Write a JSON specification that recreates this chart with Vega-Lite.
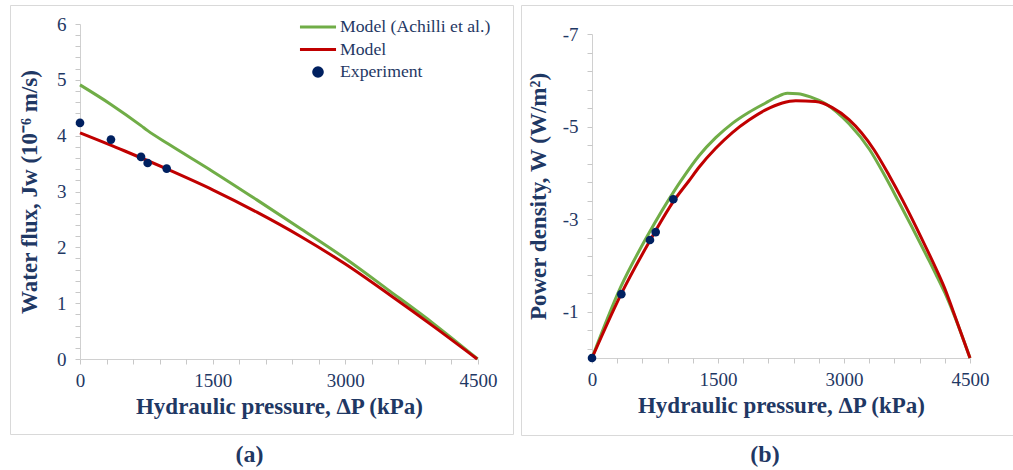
{
  "$schema": "https://vega.github.io/schema/vega-lite/v6.json",
  "background": "white",
  "padding": {"left": 9, "top": 4, "right": 0, "bottom": 0},
  "spacing": 6,
  "config": {
    "view": {"stroke": "#D9D9D9", "strokeWidth": 1},
    "font": "Liberation Serif",
    "axis": {
      "grid": false,
      "domainColor": "#D0D0D0",
      "tickColor": "#C8C8C8",
      "tickSize": 5,
      "labelFont": "Liberation Serif",
      "labelFontSize": 19,
      "labelColor": "#1F3864",
      "labelFlush": false,
      "labelOverlap": false,
      "titleFont": "Liberation Serif",
      "titleFontSize": 23,
      "titleFontWeight": "bold",
      "titleColor": "#1F3864"
    },
    "legend": {
      "labelFont": "Liberation Serif",
      "labelFontSize": 17.7,
      "labelColor": "#1F3864",
      "symbolType": "stroke",
      "symbolSize": 1300,
      "symbolStrokeWidth": 3,
      "clipHeight": 22,
      "rowPadding": 0.5,
      "labelOffset": 2,
      "padding": 0
    }
  },
  "datasets": {
    "flux": [
      {"s": "Model (Achilli et al.)", "p": 0, "v": 4.91},
      {"s": "Model (Achilli et al.)", "p": 350, "v": 4.56},
      {"s": "Model (Achilli et al.)", "p": 690, "v": 4.18},
      {"s": "Model (Achilli et al.)", "p": 765, "v": 4.09},
      {"s": "Model (Achilli et al.)", "p": 1000, "v": 3.85},
      {"s": "Model (Achilli et al.)", "p": 1500, "v": 3.36},
      {"s": "Model (Achilli et al.)", "p": 2000, "v": 2.85},
      {"s": "Model (Achilli et al.)", "p": 2500, "v": 2.33},
      {"s": "Model (Achilli et al.)", "p": 3000, "v": 1.80},
      {"s": "Model (Achilli et al.)", "p": 3500, "v": 1.22},
      {"s": "Model (Achilli et al.)", "p": 4000, "v": 0.63},
      {"s": "Model (Achilli et al.)", "p": 4497, "v": 0},
      {"s": "Model", "p": 0, "v": 4.05},
      {"s": "Model", "p": 500, "v": 3.73},
      {"s": "Model", "p": 1000, "v": 3.39},
      {"s": "Model", "p": 1500, "v": 3.03},
      {"s": "Model", "p": 2000, "v": 2.63},
      {"s": "Model", "p": 2500, "v": 2.19},
      {"s": "Model", "p": 3000, "v": 1.70},
      {"s": "Model", "p": 3500, "v": 1.15},
      {"s": "Model", "p": 4000, "v": 0.58},
      {"s": "Model", "p": 4490, "v": 0},
      {"s": "Experiment", "p": 0, "v": 4.23},
      {"s": "Experiment", "p": 350, "v": 3.93},
      {"s": "Experiment", "p": 690, "v": 3.62},
      {"s": "Experiment", "p": 765, "v": 3.51},
      {"s": "Experiment", "p": 980, "v": 3.41}
    ],
    "power": [
      {"s": "Model (Achilli et al.)", "p": 0, "v": 0},
      {"s": "Model (Achilli et al.)", "p": 341, "v": -1.53},
      {"s": "Model (Achilli et al.)", "p": 679, "v": -2.70},
      {"s": "Model (Achilli et al.)", "p": 976, "v": -3.60},
      {"s": "Model (Achilli et al.)", "p": 1056, "v": -3.82},
      {"s": "Model (Achilli et al.)", "p": 1274, "v": -4.37},
      {"s": "Model (Achilli et al.)", "p": 1473, "v": -4.76},
      {"s": "Model (Achilli et al.)", "p": 1671, "v": -5.07},
      {"s": "Model (Achilli et al.)", "p": 1869, "v": -5.31},
      {"s": "Model (Achilli et al.)", "p": 2067, "v": -5.51},
      {"s": "Model (Achilli et al.)", "p": 2200, "v": -5.64},
      {"s": "Model (Achilli et al.)", "p": 2325, "v": -5.72},
      {"s": "Model (Achilli et al.)", "p": 2450, "v": -5.71},
      {"s": "Model (Achilli et al.)", "p": 2600, "v": -5.64},
      {"s": "Model (Achilli et al.)", "p": 2782, "v": -5.49},
      {"s": "Model (Achilli et al.)", "p": 3060, "v": -5.06},
      {"s": "Model (Achilli et al.)", "p": 3306, "v": -4.50},
      {"s": "Model (Achilli et al.)", "p": 3488, "v": -3.93},
      {"s": "Model (Achilli et al.)", "p": 3650, "v": -3.38},
      {"s": "Model (Achilli et al.)", "p": 3806, "v": -2.84},
      {"s": "Model (Achilli et al.)", "p": 4000, "v": -2.15},
      {"s": "Model (Achilli et al.)", "p": 4091, "v": -1.82},
      {"s": "Model (Achilli et al.)", "p": 4200, "v": -1.41},
      {"s": "Model (Achilli et al.)", "p": 4300, "v": -0.98},
      {"s": "Model (Achilli et al.)", "p": 4500, "v": 0},
      {"s": "Model", "p": 0, "v": 0},
      {"s": "Model", "p": 341, "v": -1.36},
      {"s": "Model", "p": 679, "v": -2.50},
      {"s": "Model", "p": 976, "v": -3.40},
      {"s": "Model", "p": 1155, "v": -3.83},
      {"s": "Model", "p": 1274, "v": -4.12},
      {"s": "Model", "p": 1473, "v": -4.53},
      {"s": "Model", "p": 1671, "v": -4.87},
      {"s": "Model", "p": 1869, "v": -5.14},
      {"s": "Model", "p": 2067, "v": -5.36},
      {"s": "Model", "p": 2266, "v": -5.51},
      {"s": "Model", "p": 2425, "v": -5.56},
      {"s": "Model", "p": 2663, "v": -5.54},
      {"s": "Model", "p": 2861, "v": -5.41},
      {"s": "Model", "p": 3060, "v": -5.15},
      {"s": "Model", "p": 3357, "v": -4.50},
      {"s": "Model", "p": 3536, "v": -3.95},
      {"s": "Model", "p": 3700, "v": -3.40},
      {"s": "Model", "p": 3853, "v": -2.85},
      {"s": "Model", "p": 4000, "v": -2.30},
      {"s": "Model", "p": 4131, "v": -1.79},
      {"s": "Model", "p": 4200, "v": -1.50},
      {"s": "Model", "p": 4300, "v": -1.01},
      {"s": "Model", "p": 4500, "v": 0},
      {"s": "Experiment", "p": 0, "v": 0},
      {"s": "Experiment", "p": 349, "v": -1.38},
      {"s": "Experiment", "p": 690, "v": -2.55},
      {"s": "Experiment", "p": 758, "v": -2.72},
      {"s": "Experiment", "p": 968, "v": -3.43}
    ]
  },
  "hconcat": [
    {
      "width": 503,
      "height": 429,
      "title": {"text": "(a)", "orient": "bottom", "fontSize": 24, "fontWeight": "bold", "color": "#1F3864", "font": "Liberation Serif", "offset": 9, "dx": -12},
      "data": {"name": "flux"},
      "resolve": {"axis": {"x": "independent", "y": "independent"}},
      "layer": [
        {
          "transform": [{"filter": "datum.s !== 'Experiment'"}],
          "mark": {"type": "line", "strokeWidth": 3, "interpolate": "monotone"},
          "encoding": {
            "x": {"field": "p", "type": "quantitative", "scale": {"domain": [0, 4500], "nice": false, "range": [70, 468]},
              "axis": {"title": "Hydraulic pressure, ΔP (kPa)", "values": [0, 1500, 3000, 4500], "format": "d", "labelPadding": 7, "titlePadding": 5, "orient": "bottom", "offset": -75}},
            "y": {"field": "v", "type": "quantitative", "scale": {"domain": [0, 6], "nice": false, "range": [354, 19]},
              "axis": {"title": "Water flux, Jw (10⁻⁶ m/s)", "values": [0, 1, 2, 3, 4, 5, 6], "format": "d", "labelPadding": 9, "titlePadding": 15, "orient": "left", "offset": -70}},
            "color": {"field": "s", "type": "nominal",
              "scale": {"domain": ["Model (Achilli et al.)", "Model", "Experiment"], "range": ["#70AD47", "#C00000", "#002060"]},
              "legend": {"title": null, "orient": "none", "legendX": 288, "legendY": 11,
                "encode": {"symbols": {"update": {
                  "shape": {"signal": "datum.value === 'Experiment' ? 'circle' : 'stroke'"},
                  "size": {"signal": "datum.value === 'Experiment' ? 75 : 1300"},
                  "fill": {"signal": "datum.value === 'Experiment' ? '#002060' : 'transparent'"},
                  "stroke": {"signal": "datum.value === 'Experiment' ? 'transparent' : (datum.value === 'Model' ? '#C00000' : '#70AD47')"},
                  "strokeWidth": {"value": 3}
                }}}}}
          }
        },
        {
          "transform": [{"filter": "datum.s === 'Experiment'"}],
          "mark": {"type": "point", "filled": true, "size": 75, "opacity": 1},
          "encoding": {
            "x": {"field": "p", "type": "quantitative",
              "axis": {"values": [300,600,900,1200,1800,2100,2400,2700,3300,3600,3900,4200], "labels": false, "domain": false, "title": null, "orient": "bottom", "offset": -75}},
            "y": {"field": "v", "type": "quantitative",
              "axis": {"values": [0.2,0.4,0.6,0.8,1.2,1.4,1.6,1.8,2.2,2.4,2.6,2.8,3.2,3.4,3.6,3.8,4.2,4.4,4.6,4.8,5.2,5.4,5.6,5.8], "labels": false, "domain": false, "title": null, "orient": "left", "offset": -70}},
            "color": {"field": "s", "type": "nominal"}
          }
        }
      ]
    },
    {
      "width": 494,
      "height": 430,
      "title": {"text": "(b)", "orient": "bottom", "fontSize": 24, "fontWeight": "bold", "color": "#1F3864", "font": "Liberation Serif", "offset": 8, "dx": -3},
      "data": {"name": "power"},
      "resolve": {"axis": {"x": "independent", "y": "independent"}},
      "layer": [
        {
          "transform": [{"filter": "datum.s !== 'Experiment'"}],
          "mark": {"type": "line", "strokeWidth": 3, "interpolate": "monotone"},
          "encoding": {
            "x": {"field": "p", "type": "quantitative", "scale": {"domain": [0, 4500], "nice": false, "range": [71, 449]},
              "axis": {"title": "Hydraulic pressure, ΔP (kPa)", "values": [0, 1500, 3000, 4500], "format": "d", "labelPadding": 7, "titlePadding": 5, "orient": "bottom", "offset": -77}},
            "y": {"field": "v", "type": "quantitative", "scale": {"domain": [0, -7], "nice": false, "zero": false, "range": [353, 29]},
              "axis": {"title": "Power density, W (W/m²)", "values": [-7, -5, -3, -1], "labelExpr": "'' + datum.value", "labelPadding": 9, "titlePadding": 12, "orient": "left", "offset": -71}},
            "color": {"field": "s", "type": "nominal",
              "scale": {"domain": ["Model (Achilli et al.)", "Model", "Experiment"], "range": ["#70AD47", "#C00000", "#002060"]},
              "legend": {"title": null, "orient": "none", "legendX": 296, "legendY": 15,
                "encode": {"symbols": {"update": {
                  "shape": {"signal": "datum.value === 'Experiment' ? 'circle' : 'stroke'"},
                  "size": {"signal": "datum.value === 'Experiment' ? 75 : 1300"},
                  "fill": {"signal": "datum.value === 'Experiment' ? '#002060' : 'transparent'"},
                  "stroke": {"signal": "datum.value === 'Experiment' ? 'transparent' : (datum.value === 'Model' ? '#C00000' : '#70AD47')"},
                  "strokeWidth": {"value": 3}
                }}}}}
          }
        },
        {
          "transform": [{"filter": "datum.s === 'Experiment'"}],
          "mark": {"type": "point", "filled": true, "size": 75, "opacity": 1},
          "encoding": {
            "x": {"field": "p", "type": "quantitative",
              "axis": {"values": [300,600,900,1200,1800,2100,2400,2700,3300,3600,3900,4200], "labels": false, "domain": false, "title": null, "orient": "bottom", "offset": -77}},
            "y": {"field": "v", "type": "quantitative",
              "axis": {"values": [-6.6,-6.2,-5.8,-5.4,-4.6,-4.2,-3.8,-3.4,-2.6,-2.2,-1.8,-1.4,-0.6,-0.2], "labels": false, "domain": false, "title": null, "orient": "left", "offset": -71}},
            "color": {"field": "s", "type": "nominal"}
          }
        }
      ]
    }
  ]
}
